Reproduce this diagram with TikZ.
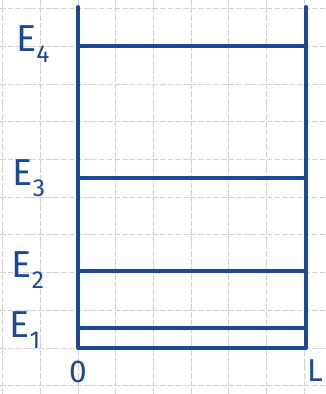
\documentclass[tikz,border=0pt]{standalone}
\usepackage{fontspec}
\setmainfont{Fira Sans}
\definecolor{inkblue}{RGB}{28,72,148}
\definecolor{gridgray}{RGB}{208,208,208}

\begin{document}
\begin{tikzpicture}[x=0.03cm,y=0.03cm,
  wall/.style={inkblue,line width=3.4pt,line cap=round,line join=round},
  level/.style={inkblue,line width=3.2pt,line cap=round},
  gridline/.style={gridgray,dash pattern=on 5pt off 1.5pt,line width=0.7pt},
  lbl/.style={inkblue,font=\fontsize{32}{32}\selectfont,inner sep=0pt},
  axlbl/.style={lbl,font=\fontsize{27}{27}\selectfont}
]
  \useasboundingbox (0,0) rectangle (325,394);

  % Squared paper
  \begin{scope}
    \clip (0,0) rectangle (325,394);
    \foreach \k in {-2,...,6}
      \draw[gridline] ({78+37.7*\k},0) -- ({78+37.7*\k},394);
    \foreach \k in {-1,...,9}
      \draw[gridline] (0,{46+37.7*\k}) -- (325,{46+37.7*\k});
  \end{scope}

  % Well
  \coordinate (t0) at (78,387);
  \coordinate (b0) at (78,46);
  \coordinate (bL) at (306,46);
  \coordinate (tL) at (306,387);
  \draw[wall] (t0) -- (b0) -- (bL) -- (tL);

  % Energy levels
  \foreach \n/\y/\lx/\ly in {4/348/33/350,3/216/29/216,2/123/28/124,1/66/25/64}{
    \coordinate (l\n) at (78,\y);
    \coordinate (r\n) at (306,\y);
    \draw[level] (l\n) -- (r\n);
    \node[lbl] (E\n) at (\lx,\ly) {E\raisebox{-0.3em}{\fontsize{21}{21}\selectfont\n}};
  }

  % Axis labels
  \node[axlbl] (x0) at (78,22) {0};
  \node[axlbl] (xL) at (315,23) {L};
\end{tikzpicture}
\end{document}
